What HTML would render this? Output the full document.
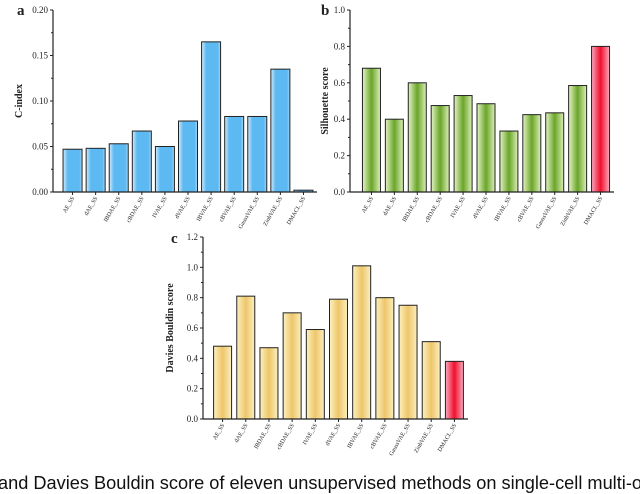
<!DOCTYPE html>
<html><head><meta charset="utf-8"><style>
body{margin:0;background:#fff;width:640px;height:489px;overflow:hidden;position:relative}
svg{position:absolute;left:0;top:0}
.t{font-family:"Liberation Serif",serif;fill:#222}
#cap{position:absolute;left:-2px;top:473px;font-family:"Liberation Sans",sans-serif;font-size:18.2px;white-space:nowrap;color:#111}
</style></head><body>
<svg id="s" width="640" height="489">
<defs>
<linearGradient id="gb" x1="0" x2="1"><stop offset="0" stop-color="#d4ecfc"/><stop offset="0.25" stop-color="#5cb9f2"/><stop offset="0.85" stop-color="#5cb9f2"/><stop offset="1" stop-color="#a8dafa"/></linearGradient>
<linearGradient id="gg" x1="0" x2="1"><stop offset="0" stop-color="#e4f4c4"/><stop offset="0.5" stop-color="#6aa52a"/><stop offset="1" stop-color="#dcefb8"/></linearGradient>
<linearGradient id="gy" x1="0" x2="1"><stop offset="0" stop-color="#fcf1c0"/><stop offset="0.5" stop-color="#eec66a"/><stop offset="1" stop-color="#fbefc0"/></linearGradient>
<linearGradient id="gr" x1="0" x2="1"><stop offset="0" stop-color="#f8a8c0"/><stop offset="0.5" stop-color="#f0102a"/><stop offset="1" stop-color="#f8a8c0"/></linearGradient>
</defs>
</svg>
<div id="cap">and Davies Bouldin score of eleven unsupervised methods on single-cell multi-o</div>
<script>
const methods=["AE_SS","dAE_SS","IBDAE_SS","cBDAE_SS","IVAE_SS","dVAE_SS","IBVAE_SS","cBVAE_SS","GaussVAE_SS","ZinbVAE_SS","DMACL_SS"];
const cindex=[0.047,0.048,0.053,0.067,0.050,0.078,0.165,0.083,0.083,0.135,0.002];
const silhouette=[0.68,0.40,0.60,0.475,0.53,0.485,0.335,0.425,0.435,0.585,0.80];
const davies=[0.48,0.81,0.47,0.70,0.59,0.79,1.01,0.80,0.75,0.51,0.38];
const ticksA=["0.00","0.05","0.10","0.15","0.20"];
const ticksB=["0.0","0.2","0.4","0.6","0.8","1.0"];
const ticksC=["0.0","0.2","0.4","0.6","0.8","1.0","1.2"];
const svg=document.getElementById('s');const NS="http://www.w3.org/2000/svg";
function mk(t,a,p){const e=document.createElementNS(NS,t);for(const k in a)e.setAttribute(k,a[k]);(p||svg).appendChild(e);return e;}
function chart(o){
 const g=mk('g',{});
 
 
 const y=v=>o.y0-(v/o.max)*(o.y0-o.y1);
 const step=(o.xe-o.xs)/methods.length;
 o.vals.forEach((v,i)=>{
  const x=o.xs+i*step+(step-o.bw)/2;
  const r=mk('rect',{x:x,y:y(v),width:o.bw,height:o.y0-y(v),fill:(i==10&&o.red)?'url(#gr)':o.fill,stroke:'#222','stroke-width':1},g);
  
  
  const tx=mk('text',{class:'t','font-size':6,'text-anchor':'end',transform:`translate(${x+o.bw/2+2},${o.y0+6}) rotate(-60)`},g);
  
  
  tx.textContent=methods[i];
  mk('line',{x1:x+o.bw/2,x2:x+o.bw/2,y1:o.y0,y2:o.y0+3,stroke:'#222'},g);
 });
 mk('line',{x1:o.ax,x2:o.ax,y1:o.y1,y2:o.y0,stroke:'#222','stroke-width':1.2},g);
 mk('line',{x1:o.ax,x2:o.xe+2,y1:o.y0,y2:o.y0,stroke:'#222','stroke-width':1.2},g);
 const n=o.ticks.length-1;
 o.ticks.forEach((t,i)=>{const yy=o.y0-i*(o.y0-o.y1)/n;
  mk('line',{x1:o.ax-3,x2:o.ax,y1:yy,y2:yy,stroke:'#222'},g);
  if(i<n){const ym=yy-(o.y0-o.y1)/n/2;mk('line',{x1:o.ax-2,x2:o.ax,y1:ym,y2:ym,stroke:'#222'},g);}
  const tx=mk('text',{class:'t','font-size':9,'text-anchor':'end',x:o.ax-5,y:yy+3},g);
  
  
  tx.textContent=t;});
 const yt=mk('text',{class:'t','font-size':10,'font-weight':'bold','text-anchor':'middle',transform:`translate(${o.tx},${(o.y0+o.y1)/2}) rotate(-90)`},g);
 
 
 yt.textContent=o.title;
 const pl=mk('text',{class:'t','font-size':15,'font-weight':'bold',x:o.lx,y:o.ly},g);
 
 
 pl.textContent=o.label;
}
chart({name:'chart-a-c-index',vals:cindex,max:0.20,ticks:ticksA,ax:53,xs:61,xe:315,bw:19,y0:192,y1:10,fill:'url(#gb)',red:false,title:'C-index',tx:22,label:'a',lx:17,ly:15});
chart({name:'chart-b-silhouette',vals:silhouette,max:1.0,ticks:ticksB,ax:350,xs:360,xe:612,bw:18,y0:192,y1:10,fill:'url(#gg)',red:true,title:'Silhouette score',tx:328,label:'b',lx:321,ly:15});
chart({name:'chart-c-davies-bouldin',vals:davies,max:1.2,ticks:ticksC,ax:203,xs:211,xe:466,bw:18,y0:419,y1:237,fill:'url(#gy)',red:true,title:'Davies Bouldin score',tx:173,label:'c',lx:171,ly:243});
</script>
</body></html>
